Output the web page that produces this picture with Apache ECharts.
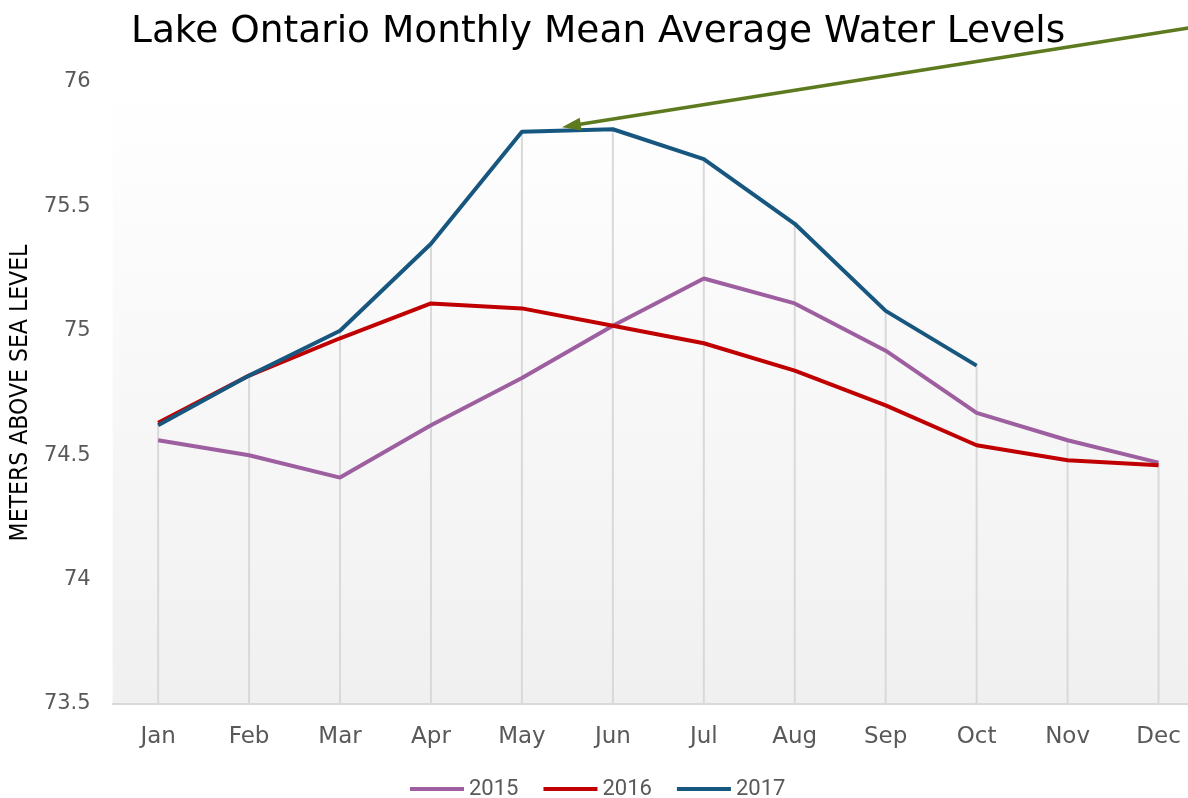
<!DOCTYPE html>
<html><head><meta charset="utf-8">
<script src="https://cdn.jsdelivr.net/npm/echarts@6/dist/echarts.min.js"></script>
<style>html,body{margin:0;padding:0;background:#fff;overflow:hidden}#c{width:1204px;height:798px}</style>
</head><body><div id="c"></div>
<script>
const months = ['Jan','Feb','Mar','Apr','May','Jun','Jul','Aug','Sep','Oct','Nov','Dec'];
const y2015 = [74.56,74.50,74.41,74.62,74.81,75.02,75.21,75.11,74.92,74.67,74.56,74.47];
const y2016 = [74.63,74.82,74.97,75.11,75.09,75.02,74.95,74.84,74.70,74.54,74.48,74.46];
const y2017 = [74.62,74.82,75.00,75.35,75.80,75.81,75.69,75.43,75.08,74.86,null,null];
const yMin = 73.5, yMax = 76, yStep = 0.5;

const dropTop = months.map((m,i)=>Math.max(...[y2015[i],y2016[i],y2017[i]].filter(v=>v!=null)));

const chart = echarts.init(document.getElementById('c'));
const tickFont = 'DejaVu Sans';
const txtColor = '#595959';
chart.setOption({
  animation:false,
  title:{text:'Lake Ontario Monthly Mean Average Water Levels',left:126,top:8,
    textStyle:{fontFamily:'DejaVu Sans',fontWeight:'normal',fontSize:37.5,color:'#000'}},
  grid:{left:112.5,right:0,top:82,bottom:94,show:true,borderWidth:0,
    backgroundColor:new echarts.graphic.LinearGradient(0,0,0,1,[{offset:0,color:'#ffffff'},{offset:1,color:'#f0f0f0'}])},
  legend:{top:773,left:405,itemWidth:54,itemHeight:4,itemGap:25,icon:'rect',
    data:['2015','2016','2017'],
    textStyle:{fontFamily:'Roboto',fontSize:22,color:txtColor,padding:[0,0,0,0]}},
  xAxis:{type:'category',data:months,boundaryGap:true,
    axisLine:{lineStyle:{color:'#d9d9d9',width:2}},axisTick:{show:false},
    axisLabel:{fontFamily:tickFont,fontSize:23,color:txtColor,margin:22}},
  yAxis:{type:'value',min:yMin,max:yMax,interval:yStep,
    name:'METERS ABOVE SEA LEVEL',nameLocation:'middle',nameGap:78,nameRotate:90,
    nameTextStyle:{fontFamily:'DejaVu Sans Condensed',fontSize:24.5,color:'#000'},
    axisLine:{show:false},axisTick:{show:false},splitLine:{show:false},
    axisLabel:{fontFamily:tickFont,fontSize:21,color:txtColor,margin:22}},
  series:[
    {type:'custom',silent:true,z:1,data:dropTop.map((v,i)=>[i,v]),
      renderItem:function(params,api){
        const p0=api.coord([api.value(0),yMin]);const p1=api.coord([api.value(0),api.value(1)]);
        return {type:'line',shape:{x1:p0[0],y1:p0[1],x2:p1[0],y2:p1[1]},style:{stroke:'#d9d9d9',lineWidth:2}};
      }},
    {name:'2015',type:'line',data:y2015,symbol:'none',z:3,lineStyle:{width:4,color:'#9e5fa0'},itemStyle:{color:'#9e5fa0'}},
    {name:'2016',type:'line',data:y2016,symbol:'none',z:4,lineStyle:{width:4,color:'#c00000'},itemStyle:{color:'#c00000'}},
    {name:'2017',type:'line',data:y2017,symbol:'none',z:5,lineStyle:{width:4,color:'#17577f'},itemStyle:{color:'#17577f'}}
  ],
  graphic:[
    {type:'line',shape:{x1:1190,y1:27.7,x2:580,y2:124.2},style:{stroke:'#5e7a1f',lineWidth:3.5},z:10},
    {type:'polygon',shape:{points:[[562,127.2],[581.7,130.6],[579.7,117.8]]},style:{fill:'#5e7a1f'},z:10}
  ]
});
</script></body></html>
